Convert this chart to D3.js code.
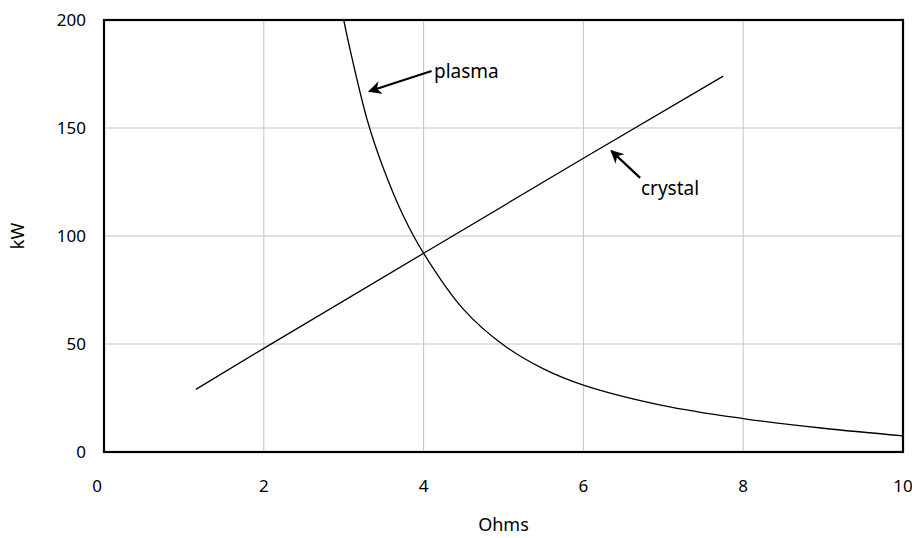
<!DOCTYPE html>
<html>
<head>
<meta charset="utf-8">
<script src="https://cdn.jsdelivr.net/npm/d3@7"></script>
<style>
  html, body { margin: 0; padding: 0; background: #fff; }
  svg { display: block; font-family: "Noto Sans", "Open Sans", sans-serif; }
</style>
</head>
<body>
<svg id="chart" width="912" height="538"></svg>
<script>
// Power vs. resistance for two sources
const xTicks = [0, 2, 4, 6, 8, 10];
const yTicks = [0, 50, 100, 150, 200];

const plasmaOhms = [3.0, 3.1, 3.3, 3.5, 3.75, 4.0, 4.5, 5.0, 5.5, 6.0, 7.0, 8.0, 9.0, 10.0];
const plasmaKW   = [200, 183, 153, 131, 109, 92, 66, 49.5, 38.5, 31, 21.5, 15.5, 11, 7.5];

const crystalOhms = [1.15, 2.0, 4.0, 6.0, 7.75];
const crystalKW   = [29, 48, 92, 136, 174];

// Callouts: label, arrow tail and arrow tip in data units
const callouts = [
  { label: "plasma",  tail: [4.10, 176.4], tip: [3.32, 167.0], text: [4.13, 173.2] },
  { label: "crystal", tail: [6.71, 126.9], tip: [6.35, 139.4], text: [6.72, 119.0] }
];

const svg = d3.select("#chart");
const margin = { left: 104, right: 9, top: 20, bottom: 86 };
const W = 912, H = 538;

const x = d3.scaleLinear().domain([0, 10]).range([margin.left, W - margin.right]);
const y = d3.scaleLinear().domain([0, 200]).range([H - margin.bottom, margin.top]);

// grid
svg.append("g").selectAll("line")
  .data(xTicks.slice(1, -1)).join("line")
  .attr("x1", d => x(d)).attr("x2", d => x(d))
  .attr("y1", y(0)).attr("y2", y(200))
  .attr("stroke", "#c4c4c4").attr("stroke-width", 1);
svg.append("g").selectAll("line")
  .data(yTicks.slice(1, -1)).join("line")
  .attr("x1", x(0)).attr("x2", x(10))
  .attr("y1", d => y(d)).attr("y2", d => y(d))
  .attr("stroke", "#c4c4c4").attr("stroke-width", 1);

// series
svg.append("path")
  .datum(plasmaOhms.map((v, i) => [v, plasmaKW[i]]))
  .attr("d", d3.line().x(d => x(d[0])).y(d => y(d[1])).curve(d3.curveCatmullRom))
  .attr("fill", "none").attr("stroke", "#000").attr("stroke-width", 1.3);
svg.append("path")
  .datum(crystalOhms.map((v, i) => [v, crystalKW[i]]))
  .attr("d", d3.line().x(d => x(d[0])).y(d => y(d[1])))
  .attr("fill", "none").attr("stroke", "#000").attr("stroke-width", 1.3);

// frame
svg.append("rect")
  .attr("x", x(0)).attr("y", y(200))
  .attr("width", x(10) - x(0)).attr("height", y(0) - y(200))
  .attr("fill", "none").attr("stroke", "#000").attr("stroke-width", 2.2);

// tick labels
svg.append("g").selectAll("text")
  .data(xTicks).join("text")
  .attr("x", (d, i) => x(d) - (i === 0 ? 7 : 0))
  .attr("y", y(0) + 40)
  .attr("text-anchor", "middle")
  .attr("font-size", 17)
  .text(d => d);
svg.append("g").selectAll("text")
  .data(yTicks).join("text")
  .attr("x", x(0) - 18)
  .attr("y", d => y(d) + 6)
  .attr("text-anchor", "end")
  .attr("font-size", 17)
  .text(d => d);

// axis titles
svg.append("text")
  .attr("x", (x(0) + x(10)) / 2).attr("y", 531)
  .attr("text-anchor", "middle").attr("font-size", 18)
  .text("Ohms");
svg.append("text")
  .attr("transform", `translate(24, ${(y(0) + y(200)) / 2}) rotate(-90)`)
  .attr("text-anchor", "middle").attr("font-size", 18)
  .text("kW");

// callout arrows
svg.append("defs").append("marker")
  .attr("id", "head")
  .attr("viewBox", "0 0 10 10")
  .attr("refX", 9).attr("refY", 5)
  .attr("markerWidth", 6).attr("markerHeight", 6)
  .attr("markerUnits", "strokeWidth")
  .attr("orient", "auto")
  .append("path").attr("d", "M0,0 L10,5 L0,10 L3,5 Z").attr("fill", "#000");

const cg = svg.append("g");
callouts.forEach(c => {
  cg.append("line")
    .attr("x1", x(c.tail[0])).attr("y1", y(c.tail[1]))
    .attr("x2", x(c.tip[0])).attr("y2", y(c.tip[1]))
    .attr("stroke", "#000").attr("stroke-width", 2.2)
    .attr("marker-end", "url(#head)");
  cg.append("text")
    .attr("x", x(c.text[0])).attr("y", y(c.text[1]))
    .attr("font-size", 19)
    .text(c.label);
});
</script>
</body>
</html>
